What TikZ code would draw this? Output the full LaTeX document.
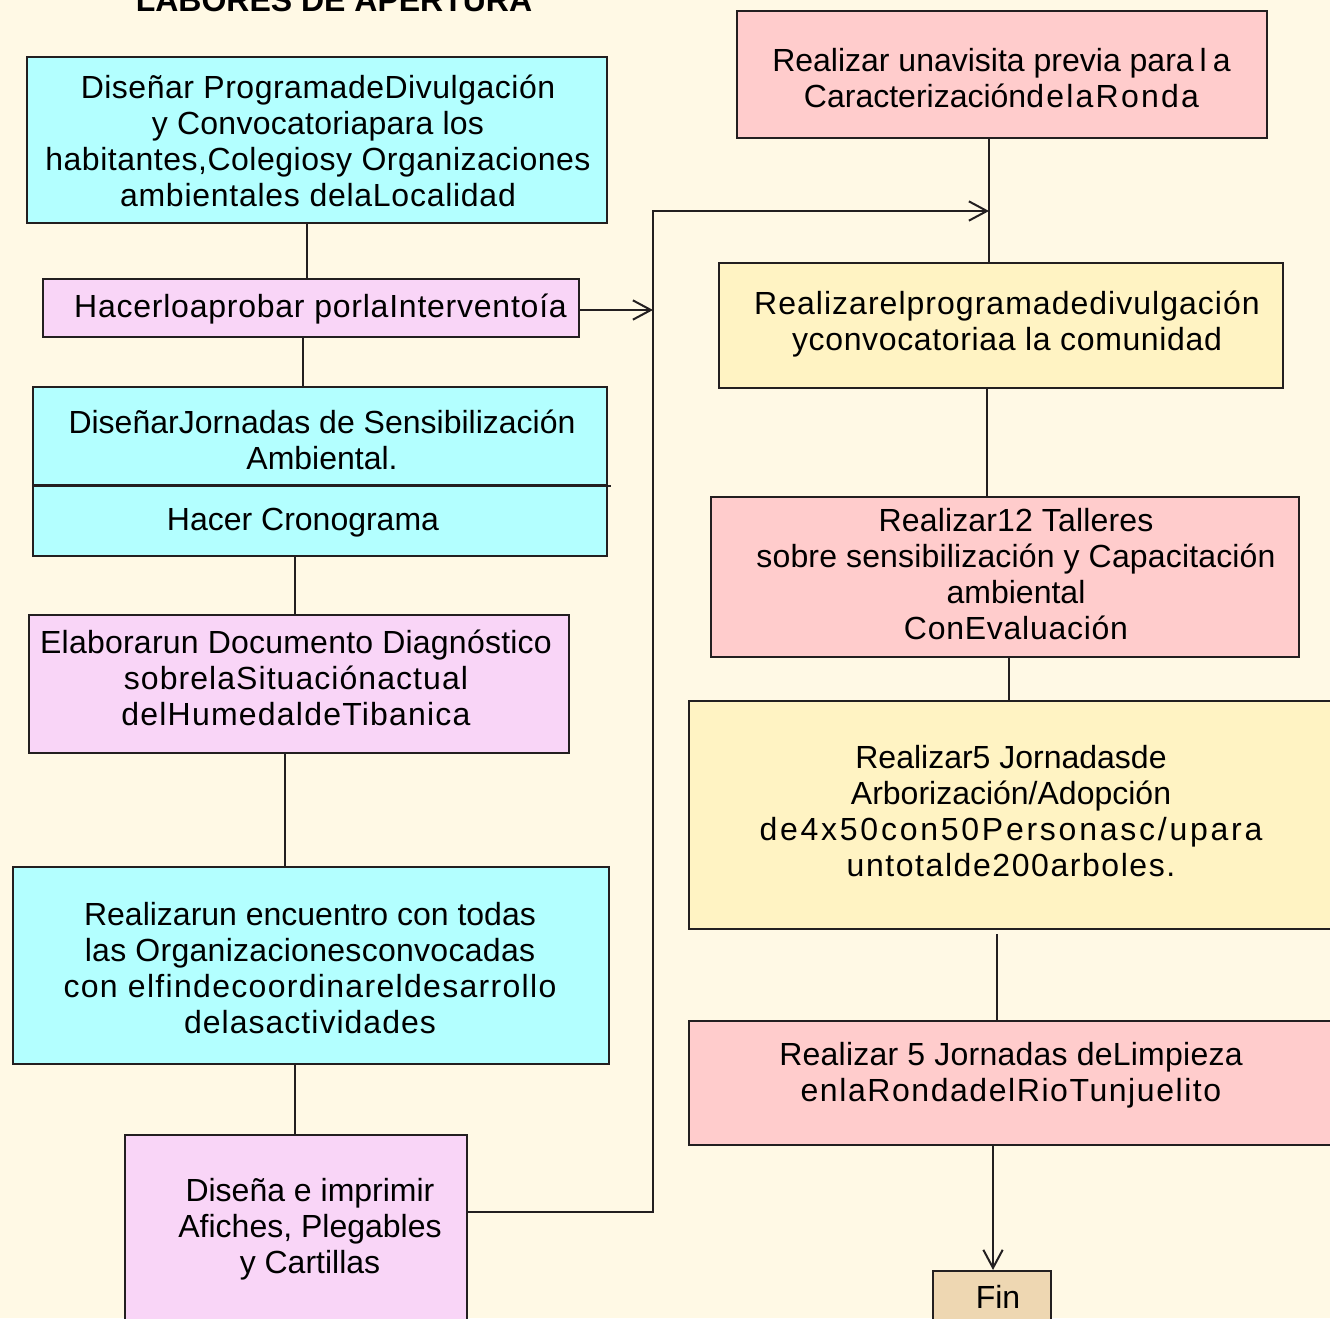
\documentclass[tikz,border=0pt]{standalone}
\usepackage{fontspec}
\setmainfont{Liberation Sans}
\usetikzlibrary{arrows.meta,calc}
\definecolor{bgc}{RGB}{255,249,229}
\definecolor{cyanb}{RGB}{179,255,255}
\definecolor{pinkb}{RGB}{249,213,247}
\definecolor{salmonb}{RGB}{255,204,204}
\definecolor{yellowb}{RGB}{255,243,195}
\definecolor{finb}{RGB}{238,215,178}
\definecolor{linec}{RGB}{35,31,32}
\newcommand\sst{\rule[-8pt]{0pt}{27pt}}
\newcommand\LS[2]{{\addfontfeature{LetterSpace=#1}#2}}
\begin{document}
\begin{tikzpicture}[x=0.75pt,y=-0.75pt,
  box/.style={draw=linec, line width=1.6pt, rectangle, inner sep=0pt},
  txt/.style={align=center, inner sep=0pt, font=\fontsize{24pt}{27pt}\selectfont, text=black},
  conn/.style={draw=linec, line width=1.5pt},
  arr/.style={conn, -{Straight Barb[length=13.5pt,width=14.5pt]}}]
\useasboundingbox (0,0) rectangle (1330,1318);
\fill[bgc] (0,0) rectangle (1330,1318);

% title
\node[font=\fontsize{24pt}{27pt}\selectfont\bfseries, anchor=base, inner sep=0pt] (title) at (334,11) {LABORES DE APERTURA};

% left column boxes
\node[box, fill=cyanb, minimum width=435pt, minimum height=124.5pt] (b1) at (317,140) {};
\node[box, fill=pinkb, minimum width=402pt, minimum height=43.5pt] (b2) at (311,308) {};
\node[box, fill=cyanb, minimum width=430.5pt, minimum height=73.5pt] (b3a) at (320,436) {};
\node[box, fill=cyanb, minimum width=430.5pt, minimum height=53.25pt] (b3b) at (320,520.5) {};
\node[box, fill=pinkb, minimum width=405pt, minimum height=103.5pt] (b4) at (299,684) {};
\node[box, fill=cyanb, minimum width=447pt, minimum height=147.75pt] (b5) at (311,965.5) {};
\node[box, fill=pinkb, minimum width=256.5pt, minimum height=146.25pt] (b6) at (296,1232.5) {};

% right column boxes
\node[box, fill=salmonb, minimum width=397.5pt, minimum height=95.25pt] (b7) at (1002,74.5) {};
\node[box, fill=yellowb, minimum width=423pt, minimum height=93.75pt] (b8) at (1001,325.5) {};
\node[box, fill=salmonb, minimum width=441pt, minimum height=120pt] (b9) at (1005,577) {};
\node[box, fill=yellowb, minimum width=488.25pt, minimum height=171pt] (b10) at (1014.5,815) {};
\node[box, fill=salmonb, minimum width=488.25pt, minimum height=93pt] (b11) at (1014.5,1083) {};
\node[box, fill=finb, minimum width=88.5pt, minimum height=44.25pt] (fin) at (992,1300.5) {};

% divider of box 3 slightly overshooting
\draw[conn] (b3a.south west) -- ([xshift=2.25pt]b3a.south east);

% texts
\node[txt] (t1) at (318,144.9) {\sst\LS{1.6}{Diseñar ProgramadeDivulgación}\\
  \sst\LS{0.8}{y Convocatoriapara los}\\
  \sst\LS{1.6}{habitantes,Colegiosy Organizaciones}\\
  \sst\LS{2.3}{ambientales delaLocalidad}};
\node[txt] (t2) at (320.5,309.7) {\sst\LS{2.4}{Hacerloaprobar porlaInterventoía}};
\node[txt] (t3) at (322,443.7) {\sst DiseñarJornadas de Sensibilización\\ \sst Ambiental.};
\node[txt] (t3b) at (303,522.7) {\sst Hacer Cronograma};
\node[txt] (t4) at (296,681.7) {\sst\LS{0.7}{Elaborarun Documento Diagnóstico}\\
  \sst\LS{3.3}{sobrelaSituaciónactual}\\
  \sst\LS{3.8}{delHumedaldeTibanica}};
\node[txt] (t5) at (310,972.2) {\sst Realizarun encuentro con todas\\
  \sst\LS{0.9}{las Organizacionesconvocadas}\\
  \sst\LS{4.1}{con elfindecoordinareldesarrollo}\\
  \sst\LS{3.2}{delasactividades}};
\node[txt] (t6) at (310,1229.7) {\sst Diseña e imprimir\\ \sst Afiches, Plegables\\ \sst y Cartillas};
\node[txt] (t7) at (1001.5,82.2) {\sst Realizar unavisita previa para\kern4.5pt l\kern4.5pt a\\
  \sst Caracterización\LS{7}{delaRonda}};
\node[txt] (t8) at (1007,325.2) {\sst\LS{3.2}{Realizarelprogramadedivulgación}\\
  \sst\LS{2}{yconvocatoriaa la comunidad}};
\node[txt] (t9) at (1016,577.9) {\sst\LS{0.5}{Realizar12 Talleres}\\
  \sst\LS{0.5}{sobre sensibilización y Capacitación}\\
  \sst ambiental\\
  \sst\LS{2.3}{ConEvaluación}};
\node[txt] (t10) at (1011,815.4) {\sst Realizar5 Jornadasde\\
  \sst Arborización/Adopción\\
  \sst\LS{8.6}{de4x50con50Personasc/upara}\\
  \sst\LS{4.9}{untotalde200arboles.}};
\node[txt] (t11) at (1011,1075.7) {\sst\LS{0.75}{Realizar 5 Jornadas deLimpieza}\\
  \sst\LS{4.9}{enlaRondadelRioTunjuelito}};
\node[txt] (tfin) at (998,1300.7) {\sst Fin};

% connector x positions
\coordinate (x1) at (307,0);
\coordinate (x2) at (303,0);
\coordinate (x3) at (295,0);
\coordinate (x4) at (285,0);
\coordinate (x5) at (295,0);
\coordinate (x7) at (989,0);
\coordinate (x8) at (987,0);
\coordinate (x9) at (1009,0);
\coordinate (x10) at (997,0);
\coordinate (x11) at (993,0);
\coordinate (j1) at (653,310);
\coordinate (j2) at (653,211);
\coordinate (j3) at (989,211);
\coordinate (j4) at (653,1212);

% left column connectors
\draw[conn] (b1.south -| x1) -- (b2.north -| x1);
\draw[conn] (b2.south -| x2) -- (b3a.north -| x2);
\draw[conn] (b3b.south -| x3) -- (b4.north -| x3);
\draw[conn] (b4.south -| x4) -- (b5.north -| x4);
\draw[conn] (b5.south -| x5) -- (b6.north -| x5);

% cross connectors
\draw[arr] (b2.east |- j1) -- (j1);
\draw[arr] (b6.east |- j4) -- (j4) -- (j2) -- (j3);

% right column connectors
\draw[conn] (b7.south -| x7) -- (b8.north -| x7);
\draw[conn] (b8.south -| x8) -- (b9.north -| x8);
\draw[conn] (b9.south -| x9) -- (b10.north -| x9);
\draw[conn] ([yshift=-3pt]b10.south -| x10) -- (b11.north -| x10);
\draw[arr] (b11.south -| x11) -- (fin.north -| x11);
\end{tikzpicture}
\end{document}
